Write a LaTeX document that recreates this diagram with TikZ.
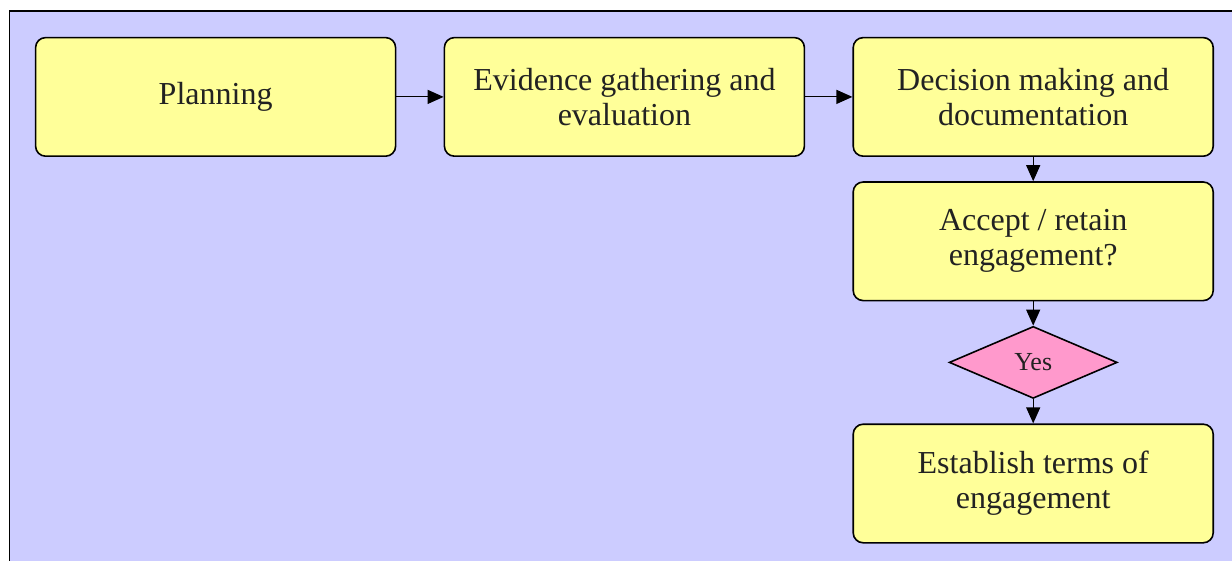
\documentclass[tikz,border=0pt]{standalone}
\usepackage{fontspec}
\setmainfont{Liberation Serif}
\usepackage{xcolor}
\usepackage{tikz}
\usetikzlibrary{positioning, shapes.geometric, arrows.meta}
\definecolor{panelBlue}{HTML}{CCCCFF}
\definecolor{boxYellow}{HTML}{FFFF99}
\definecolor{yesPink}{HTML}{FF99CC}
\definecolor{textGray}{HTML}{222222}

\begin{document}
\begin{tikzpicture}
[stage/.style={rectangle, rounded corners=5pt, draw=black, line width=0.8pt, fill=boxYellow,
  minimum width=180pt, minimum height=59.3pt, align=center, text=textGray,
  font=\fontsize{16}{17.5}\selectfont},
decision/.style={diamond, draw=black, line width=0.8pt, fill=yesPink, inner sep=0pt,
  minimum width=84pt, minimum height=36pt, text=textGray, font=\fontsize{13}{14}\selectfont},
link/.style={-{Triangle[length=8pt, width=7pt]}, line width=0.6pt},
node distance = 12.1pt and 23.6pt]

\useasboundingbox (0,0) rectangle (616pt,-280.5pt);
\fill[panelBlue] (4.75pt,-5.5pt) rectangle (616pt,-280.5pt);
\draw[line width=0.8pt] (4.75pt,-281pt) -- (4.75pt,-5.5pt) -- (617pt,-5.5pt);

\node[stage, anchor=north west] (plan) at (17.4pt,-18.4pt) {Planning};
\node[stage, right = of plan] (evidence) {Evidence gathering and\\evaluation};
\node[stage, right = of evidence] (decide) {Decision making and\\documentation};
\node[stage, below = of decide] (accept) {Accept / retain\\engagement?};
\node[decision, below = of accept] (yes) {Yes};
\node[stage, below = of yes] (terms) {Establish terms of\\engagement};

\draw[link] (plan) -- (evidence);
\draw[link] (evidence) -- (decide);
\draw[link] (decide) -- (accept);
\draw[link] (accept) -- (yes);
\draw[link] (yes) -- (terms);
\end{tikzpicture}
\end{document}
